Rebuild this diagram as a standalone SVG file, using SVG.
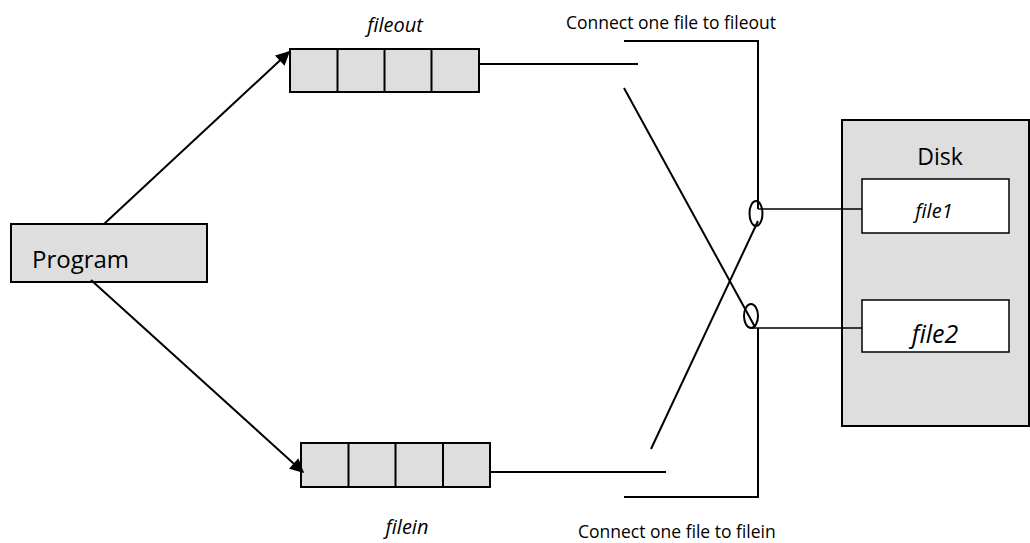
<svg xmlns="http://www.w3.org/2000/svg" width="1030" height="543" viewBox="0 0 1030 543">
<style>
.box{fill:#dedede;stroke:#000;stroke-width:2}
.wbox{fill:#fff;stroke:#000;stroke-width:1.5}
.ln{fill:none;stroke:#000;stroke-width:2}
.thin{fill:none;stroke:#000;stroke-width:1.3}
text{font-family:"Open Sans","Liberation Sans",sans-serif;fill:#000}
.it{font-style:italic}
</style>
<defs>
<marker id="ah" viewBox="0 0 10 10" refX="9" refY="5" markerWidth="8" markerHeight="7" orient="auto" markerUnits="strokeWidth">
<path d="M0,0 L10,5 L0,10 z" fill="#000"/>
</marker>
</defs>
<rect width="1030" height="543" fill="#fff"/>
<g id="disk">
<rect class="box" x="842" y="120" width="187" height="306"/>
<text x="940" y="165" font-size="23" text-anchor="middle">Disk</text>
</g>
<g id="file1">
<rect class="wbox" x="862" y="179" width="147" height="54"/>
<text class="it" x="934" y="218" font-size="20" text-anchor="middle">file1</text>
</g>
<g id="file2">
<rect class="wbox" x="862" y="300" width="147" height="52"/>
<text class="it" x="935" y="343" font-size="25" text-anchor="middle">file2</text>
</g>
<g id="program">
<rect class="box" x="11" y="224" width="196" height="58"/>
<text x="32" y="268" font-size="24">Program</text>
</g>
<g id="fileout">
<rect class="box" x="290" y="49" width="189" height="43"/>
<line class="ln" x1="337.5" y1="49" x2="337.5" y2="92"/>
<line class="ln" x1="384.5" y1="49" x2="384.5" y2="92"/>
<line class="ln" x1="431.5" y1="49" x2="431.5" y2="92"/>
<text class="it" x="395" y="32" font-size="20" text-anchor="middle">fileout</text>
</g>
<g id="filein">
<rect class="box" x="301" y="443" width="189" height="44"/>
<line class="ln" x1="348.5" y1="443" x2="348.5" y2="487"/>
<line class="ln" x1="395.5" y1="443" x2="395.5" y2="487"/>
<line class="ln" x1="443" y1="443" x2="443" y2="487"/>
<text class="it" x="407" y="534" font-size="20" text-anchor="middle">filein</text>
</g>
<g id="switch-labels">
<text x="566" y="29" font-size="17.5">Connect one file to fileout</text>
<text x="578" y="538" font-size="17.5">Connect one file to filein</text>
</g>
<g id="connectors">
<line class="ln" x1="104" y1="224" x2="289" y2="52" marker-end="url(#ah)"/>
<line class="ln" x1="91" y1="280" x2="303" y2="472" marker-end="url(#ah)"/>
<line class="ln" x1="479" y1="64" x2="638" y2="64"/>
<line class="ln" x1="490" y1="472" x2="666" y2="472"/>
<polyline class="ln" points="624,41 758,41 758,209"/>
<polyline class="ln" points="624,497 758,497 758,328"/>
<line class="thin" x1="758" y1="209" x2="862" y2="209"/>
<line class="thin" x1="752" y1="328" x2="862" y2="328"/>
<line class="ln" x1="624" y1="88" x2="755" y2="327"/>
<line class="ln" x1="651" y1="449" x2="758" y2="221"/>
<ellipse class="ln" cx="756" cy="213.5" rx="6.5" ry="12.5"/>
<ellipse class="ln" cx="751" cy="316" rx="7" ry="12"/>
</g>
</svg>
